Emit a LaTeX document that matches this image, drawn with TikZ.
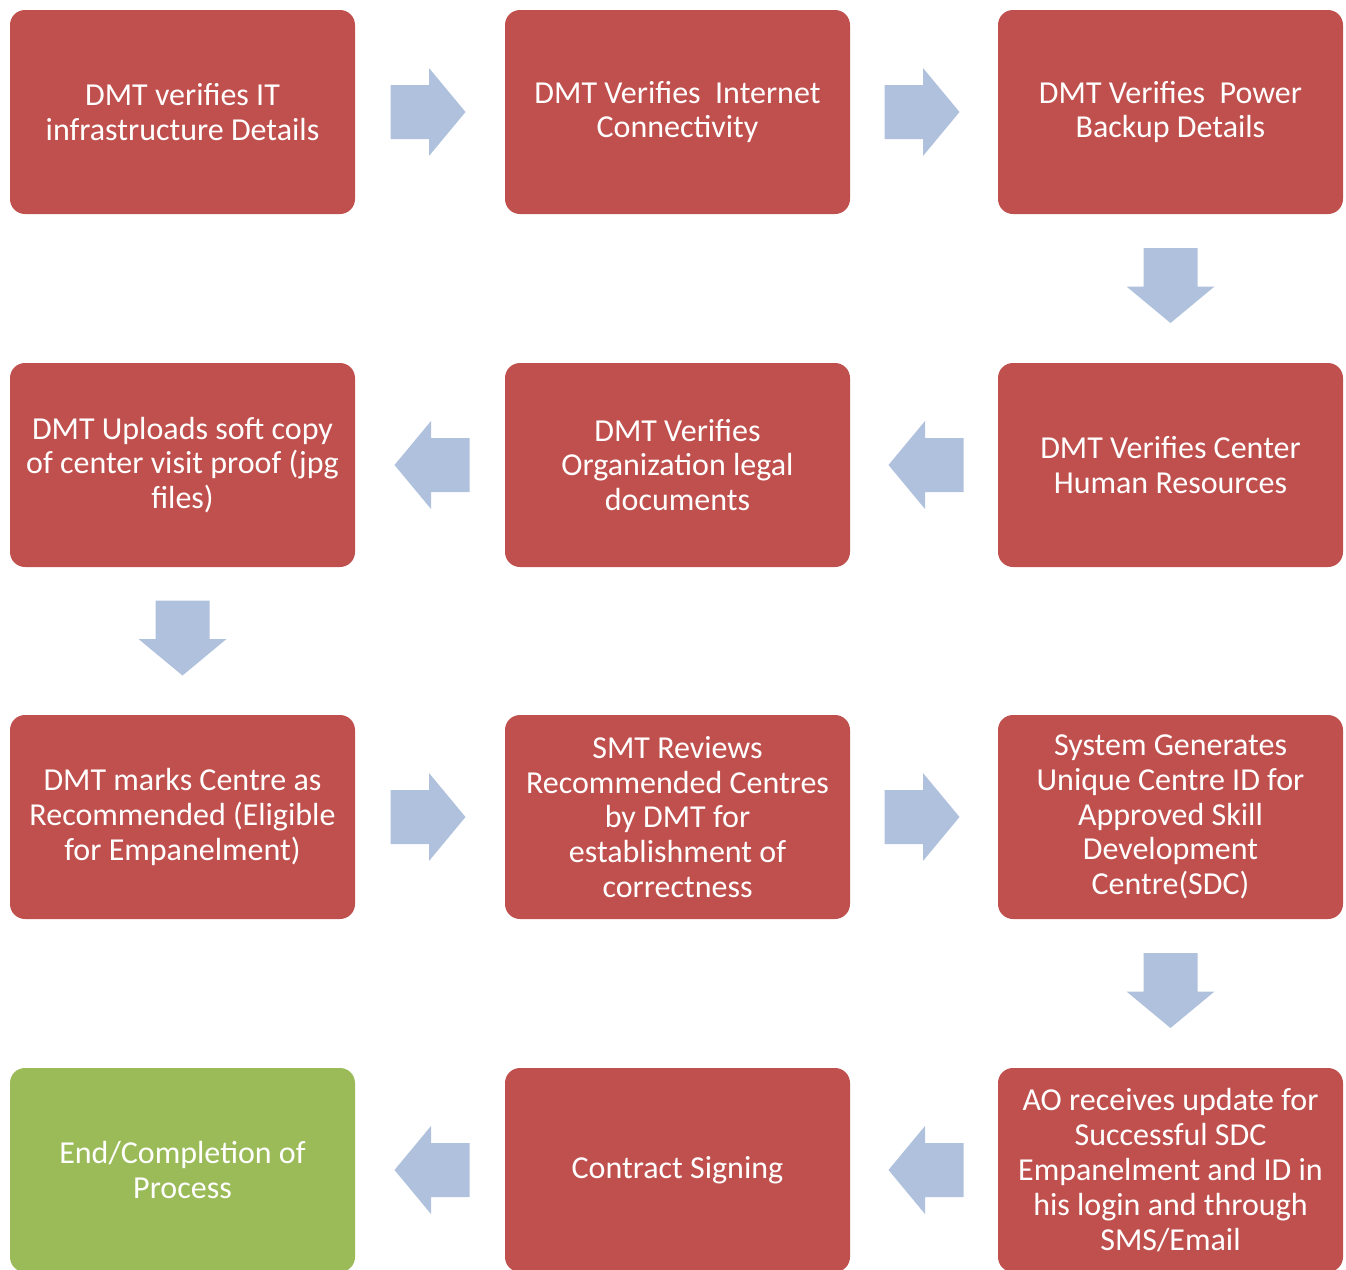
\documentclass[tikz,border=0pt]{standalone}
\usepackage{fontspec}
\setmainfont{Carlito}
\usetikzlibrary{calc}
\definecolor{boxred}{HTML}{C0504D}
\definecolor{boxgreen}{HTML}{9BBB59}
\definecolor{arrowc}{HTML}{AFC1DC}
\tikzset{
  stepbox/.style={rectangle, rounded corners=7.5pt, fill=boxred, draw=none,
    minimum width=172.5pt, minimum height=102pt, inner sep=0pt,
    text=white, align=center, font=\fontsize{16pt}{17.4pt}\selectfont},
  endbox/.style={stepbox, fill=boxgreen},
  blockarrow/.pic={
    \fill[arrowc] (-37.5,-27) -- (1,-27) -- (1,-44) -- (37.5,0) -- (1,44) -- (1,27) -- (-37.5,27) -- cycle;
  }
}
\begin{document}
\begin{tikzpicture}[x=0.5pt,y=-0.5pt]
\useasboundingbox (0,0) rectangle (1346,1270);
% row 1
\node[stepbox] (b1) at (182.5,112) {DMT verifies IT\\infrastructure Details};
\node[stepbox] (b2) at (677.5,112) {DMT Verifies\ \ Internet\\Connectivity};
\node[stepbox] (b3) at (1170.5,112) {DMT Verifies\ \ Power\\Backup Details};
% row 2
\node[stepbox] (b4) at (1170.5,465) {DMT Verifies Center\\Human Resources};
\node[stepbox] (b5) at (677.5,465) {DMT Verifies\\Organization legal\\documents};
\node[stepbox] (b6) at (182.5,465) {DMT Uploads soft copy\\of center visit proof (jpg\\files)};
% row 3
\node[stepbox] (b7) at (182.5,817) {DMT marks Centre as\\Recommended (Eligible\\for Empanelment)};
\node[stepbox] (b8) at (677.5,817) {SMT Reviews\\Recommended Centres\\by DMT for\\establishment of\\correctness};
\node[stepbox] (b9) at (1170.5,817) {System Generates\\Unique Centre ID for\\Approved Skill\\Development\\Centre(SDC)};
% row 4
\node[stepbox] (b10) at (1170.5,1170) {AO receives update for\\Successful SDC\\Empanelment and ID in\\his login and through\\SMS/Email};
\node[stepbox] (b11) at (677.5,1170) {Contract Signing};
\node[endbox] (b12) at (182.5,1170) {End/Completion of\\Process};
% arrows
\pic at ($(b1.east)!0.5!(b2.west)+(-2,0)$) {blockarrow};
\pic at ($(b2.east)!0.5!(b3.west)+(-2,0)$) {blockarrow};
\pic[rotate=-90] at ($(b3.south)!0.5!(b4.north)+(0,-3)$) {blockarrow};
\pic[rotate=180] at ($(b4.west)!0.5!(b5.east)+(2,0)$) {blockarrow};
\pic[rotate=180] at ($(b5.west)!0.5!(b6.east)+(2,0)$) {blockarrow};
\pic[rotate=-90] at ($(b6.south)!0.5!(b7.north)+(0,-3)$) {blockarrow};
\pic at ($(b7.east)!0.5!(b8.west)+(-2,0)$) {blockarrow};
\pic at ($(b8.east)!0.5!(b9.west)+(-2,0)$) {blockarrow};
\pic[rotate=-90] at ($(b9.south)!0.5!(b10.north)+(0,-3)$) {blockarrow};
\pic[rotate=180] at ($(b10.west)!0.5!(b11.east)+(2,0)$) {blockarrow};
\pic[rotate=180] at ($(b11.west)!0.5!(b12.east)+(2,0)$) {blockarrow};
\end{tikzpicture}
\end{document}
